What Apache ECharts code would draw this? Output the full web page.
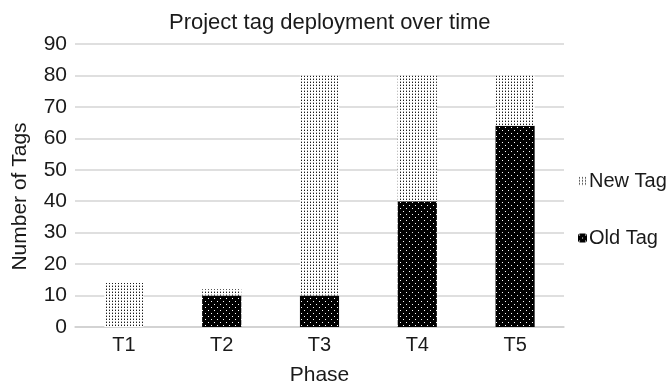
<!DOCTYPE html>
<html>
<head>
<meta charset="utf-8">
<script src="https://cdn.jsdelivr.net/npm/echarts@6/dist/echarts.min.js"></script>
<style>
html,body{margin:0;padding:0;background:#fff;}
#chart{width:670px;height:391px;}
</style>
</head>
<body>
<div id="chart"></div>
<script>
const categories = ['T1', 'T2', 'T3', 'T4', 'T5'];
const oldTag = [0, 10, 10, 40, 64];
const newTag = [14, 2, 70, 40, 16];
const yTicks = [0, 10, 20, 30, 40, 50, 60, 70, 80, 90];

function newPattern() {
  const c = document.createElement('canvas');
  c.width = 3; c.height = 3;
  const ctx = c.getContext('2d');
  ctx.fillStyle = '#ffffff'; ctx.fillRect(0, 0, 3, 3);
  ctx.fillStyle = '#1c1c1c'; ctx.fillRect(1, 1, 1, 1);
  ctx.fillStyle = '#a8a8a8'; ctx.fillRect(1, 0, 1, 1);
  return c;
}
function oldPattern() {
  const c = document.createElement('canvas');
  c.width = 6; c.height = 6;
  const ctx = c.getContext('2d');
  ctx.fillStyle = '#000000'; ctx.fillRect(0, 0, 6, 6);
  ctx.clearRect(1, 1, 1, 1);
  ctx.clearRect(4, 4, 1, 1);
  return c;
}
const newPat = newPattern();
const oldPat = oldPattern();

const font = 'Liberation Sans, Arial, sans-serif';
const chart = echarts.init(document.getElementById('chart'));
chart.setOption({
  animation: false,
  title: {
    text: 'Project tag deployment over time',
    left: 164, top: 7,
    textStyle: { fontFamily: font, fontSize: 22, fontWeight: 'normal', color: '#1a1a1a' }
  },
  grid: { left: 75, right: 106, top: 44, bottom: 59 },
  legend: {
    orient: 'vertical', left: 573, top: 166,
    itemWidth: 9, itemHeight: 9, itemGap: 37,
    data: ['New Tag', 'Old Tag'],
    textStyle: { fontFamily: font, fontSize: 20, color: '#1a1a1a', padding: [0, 0, 0, -3] }
  },
  xAxis: {
    type: 'category', data: categories,
    name: 'Phase', nameLocation: 'middle', nameGap: 38,
    nameTextStyle: { fontFamily: font, fontSize: 21, color: '#1a1a1a' },
    axisTick: { show: false },
    axisLine: { lineStyle: { color: '#d0d0d0', width: 1.5 } },
    axisLabel: { fontFamily: font, fontSize: 20, color: '#1a1a1a', margin: 8 }
  },
  yAxis: {
    type: 'value', min: yTicks[0], max: yTicks[yTicks.length - 1], interval: 10,
    name: 'Number of Tags', nameLocation: 'middle', nameGap: 44,
    nameTextStyle: { fontFamily: font, fontSize: 21, color: '#1a1a1a', padding: [0, 22, 0, 0] },
    axisLine: { show: false }, axisTick: { show: false },
    splitLine: { lineStyle: { color: '#d4d4d4', width: 1.5 } },
    axisLabel: { fontFamily: font, fontSize: 21, color: '#1a1a1a', margin: 8 }
  },
  series: [
    {
      name: 'Old Tag', type: 'bar', stack: 'tags', barWidth: '40%', data: oldTag,
      itemStyle: { color: { image: oldPat, repeat: 'repeat' } }
    },
    {
      name: 'New Tag', type: 'bar', stack: 'tags', barWidth: '40%', data: newTag,
      itemStyle: { color: { image: newPat, repeat: 'repeat' } }
    }
  ]
});
</script>
</body>
</html>
